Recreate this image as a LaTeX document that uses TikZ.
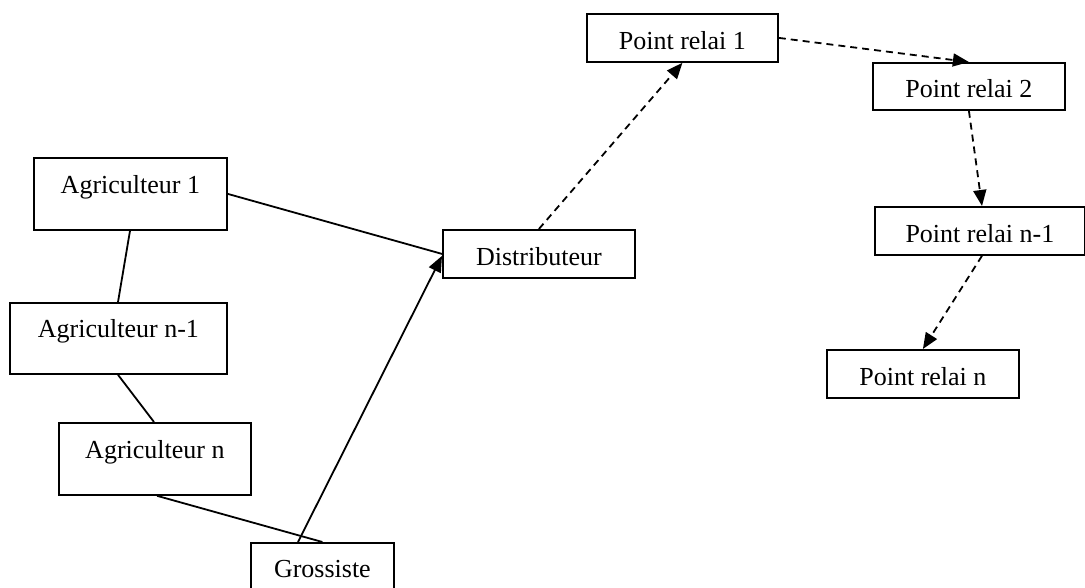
\documentclass[tikz,border=0pt]{standalone}
\usepackage{fontspec}
\setmainfont{Liberation Serif}
\usetikzlibrary{arrows.meta}
\begin{document}
\begin{tikzpicture}[x=1pt,y=-1pt,
  box/.style={draw, line width=1.8pt, inner xsep=0pt, inner ysep=0pt, anchor=north west,
    font=\fontsize{26}{30}\selectfont},
  tall/.style={text height=36pt, text depth=36pt},
  short/.style={text height=36pt, text depth=12pt},
  link/.style={line width=1.8pt},
  arr/.style={line width=1.8pt, -{Triangle[length=16pt,width=13pt]}},
  dasharr/.style={arr, dash pattern=on 7pt off 5pt}]
\clip (0,0) rectangle (1085,588);
\fill[white] (0,0) rectangle (1085,588);
\node[box, tall, minimum width=193pt] (a1) at (33,157) {Agriculteur 1};
\node[box, text height=35pt, text depth=36pt, minimum width=217pt] (an1) at (9,302) {Agriculteur n-1};
\node[box, tall, minimum width=192pt] (an) at (58,422) {Agriculteur n};
\node[box, text height=35pt, text depth=30pt, minimum width=143pt] (gros) at (250,542) {Grossiste};
\node[box, short, minimum width=192pt] (dist) at (442,229) {Distributeur};
\node[box, short, minimum width=191pt] (pr1) at (586,13) {Point relai 1};
\node[box, text height=35pt, text depth=12pt, minimum width=192pt] (pr2) at (872,62) {Point relai 2};
\node[box, short, minimum width=210pt] (prn1) at (874,206) {Point relai n-1};
\node[box, short, minimum width=192pt] (prn) at (826,349) {Point relai n};

\draw[link] (a1.east) -- (dist.west);
\draw[link] ([xshift=97pt]a1.south west) -- ([xshift=109pt]an1.north west);
\draw[link] ([xshift=109pt]an1.south west) -- ([xshift=96pt]an.north west);
\draw[link] ([xshift=99pt]an.south west) -- (gros.north);
\draw[arr] ([xshift=48pt]gros.north west) -- ([yshift=-2pt]dist.west);
\draw[dasharr] (dist.north) -- (pr1.south);
\draw[dasharr] (pr1.east) -- (pr2.north);
\draw[dasharr] (pr2.south) -- ([xshift=108pt]prn1.north west);
\draw[dasharr] ([xshift=108pt]prn1.south west) -- (prn.north);
\end{tikzpicture}
\end{document}
